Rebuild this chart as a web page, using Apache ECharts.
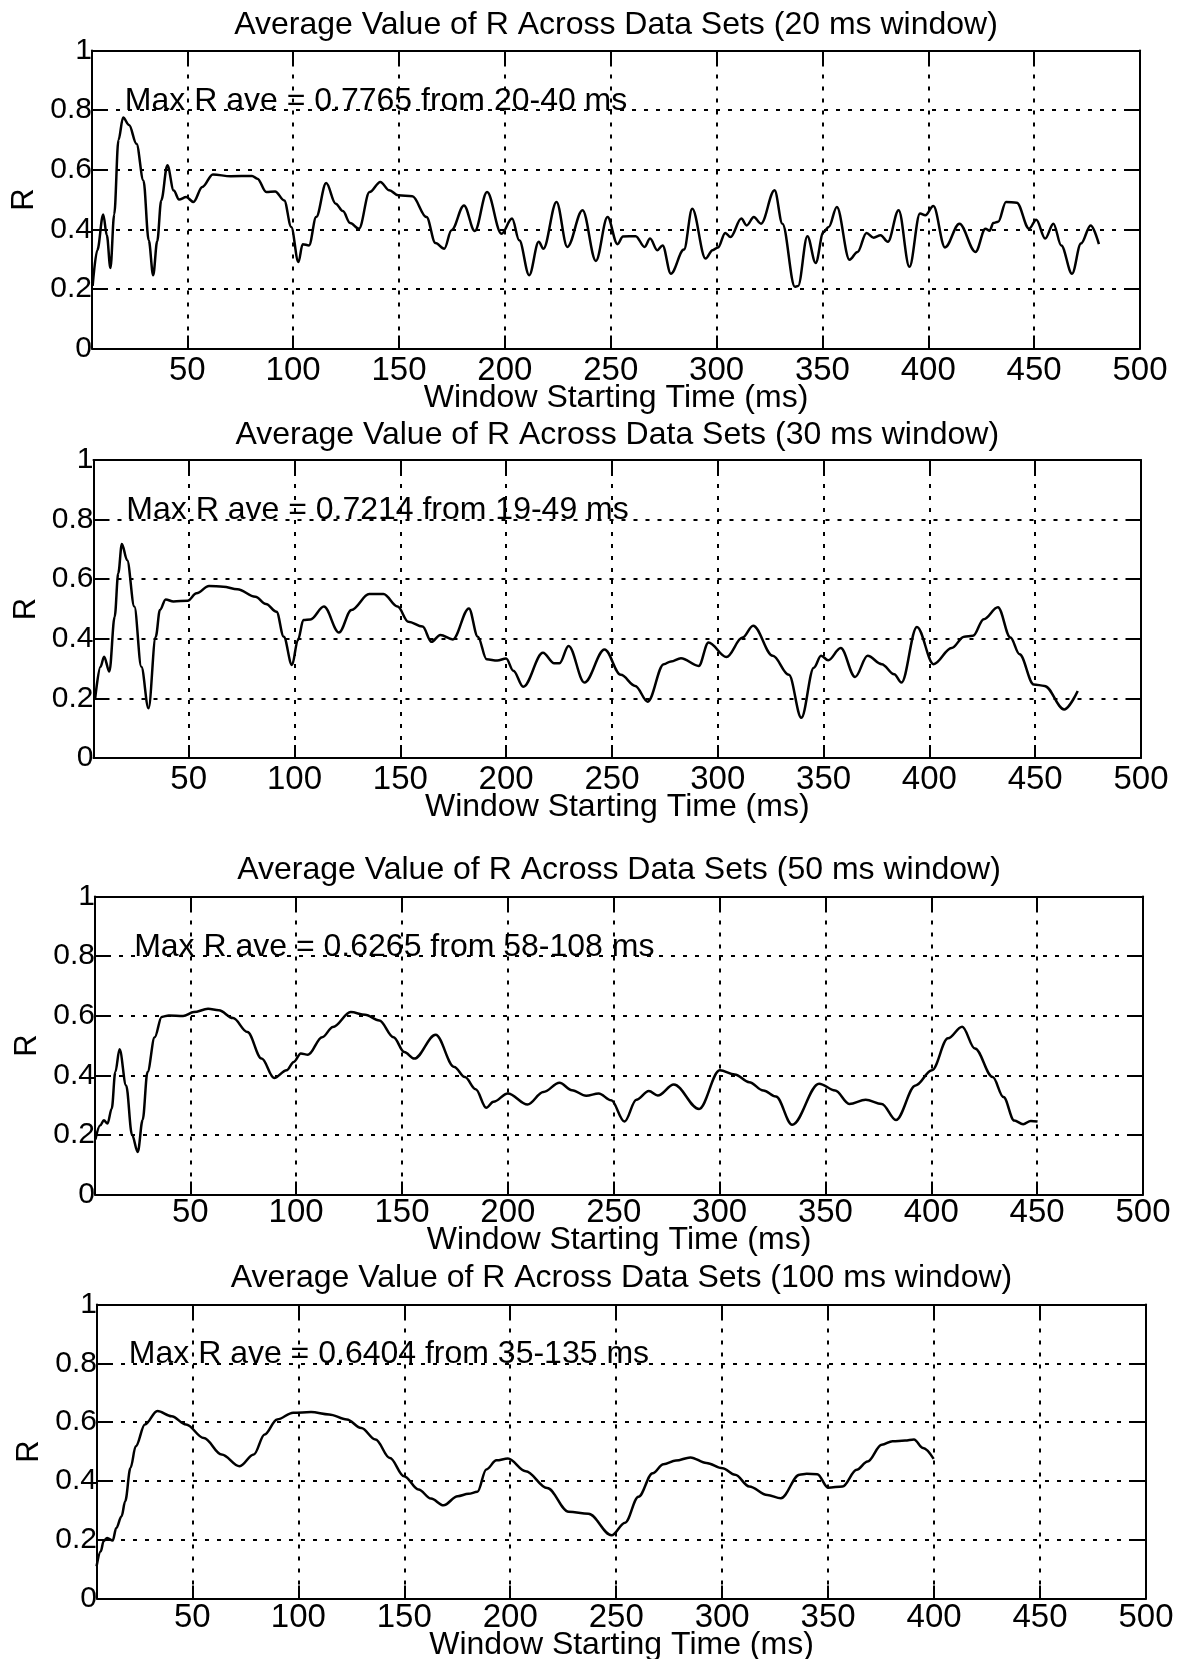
<!DOCTYPE html>
<html>
<head>
<meta charset="utf-8">
<title>Average Value of R Across Data Sets</title>
<script src="https://cdn.jsdelivr.net/npm/echarts@6/dist/echarts.min.js"></script>
<style>
  html, body { margin: 0; padding: 0; background: #fff; }
  #chart { width: 1189px; height: 1659px; }
</style>
</head>
<body>
<div id="chart"></div>
<script>
// ---------- data ----------
const panelTitles = [
  'Average Value of R Across Data Sets (20 ms window)',
  'Average Value of R Across Data Sets (30 ms window)',
  'Average Value of R Across Data Sets (50 ms window)',
  'Average Value of R Across Data Sets (100 ms window)'
];
const maxNotes = [
  'Max R ave = 0.7765 from 20-40 ms',
  'Max R ave = 0.7214 from 19-49 ms',
  'Max R ave = 0.6265 from 58-108 ms',
  'Max R ave = 0.6404 from 35-135 ms'
];
const noteX = [20.5, 20.5, 23.5, 20];
const xTicks = [50, 100, 150, 200, 250, 300, 350, 400, 450, 500];
const xName = 'Window Starting Time (ms)';
const yName = 'R';

// 20 ms window
const t20 = [5.3, 7.5, 10.3, 12, 13.7, 15.5, 17.5, 19.7, 22.5, 26, 29.3, 31.8, 33.9, 35.8, 37.7, 40.6, 43.6, 46.1, 49.5, 52.9,
  57.1, 62.1, 70.5, 80.6, 83.1, 87.3, 91.5, 95.8, 99.1, 102.5, 104.5, 107.5, 110.9, 115.6, 120.1, 123.5, 126.9, 131.1, 136.1, 141.2,
  145.4, 149.6, 156.3, 163, 167.2, 171.4, 174.8, 180.7, 185.8, 191.6, 198.4, 203.4, 206.8, 211.5, 216, 218.2, 224.4, 229.5, 236.7, 243,
  248.5, 253.2, 255.8, 261.8, 266, 268.6, 272, 274.5, 278.4, 284.6, 288.5, 294.8, 298.1, 300.7, 304.1, 306.6, 311.7, 314.2, 317.6, 321,
  327.4, 331.1, 337, 338.5, 342.9, 346.8, 350.5, 353, 356.8, 362.8, 366.6, 370.8, 374.2, 377.5, 380.9, 386, 391.1, 396.1, 398.6, 402.4,
  407.9, 414.7, 422.3, 427, 429, 430.7, 433, 436.7, 441.8, 447.6, 451, 455.2, 459.1, 462.8, 467.9, 472.1, 476.7, 480.6];
const r20 = [0.21, 0.33, 0.45, 0.38, 0.27, 0.45, 0.7, 0.775, 0.75, 0.687, 0.564, 0.363, 0.246, 0.36, 0.497, 0.615, 0.53, 0.5, 0.508, 0.492,
  0.542, 0.584, 0.578, 0.579, 0.57, 0.525, 0.527, 0.497, 0.408, 0.29, 0.35, 0.346, 0.441, 0.555, 0.486, 0.461, 0.421, 0.402, 0.525, 0.559,
  0.531, 0.514, 0.511, 0.441, 0.354, 0.335, 0.397, 0.48, 0.394, 0.525, 0.385, 0.436, 0.363, 0.246, 0.358, 0.335, 0.492, 0.341, 0.464, 0.294,
  0.441, 0.35, 0.376, 0.377, 0.341, 0.369, 0.33, 0.346, 0.251, 0.332, 0.469, 0.302, 0.33, 0.339, 0.388, 0.374, 0.436, 0.413, 0.441, 0.419,
  0.531, 0.419, 0.207, 0.21, 0.377, 0.287, 0.391, 0.408, 0.475, 0.298, 0.324, 0.388, 0.372, 0.38, 0.358, 0.464, 0.274, 0.453, 0.447, 0.478,
  0.339, 0.419, 0.324, 0.402, 0.395, 0.421, 0.425, 0.492, 0.489, 0.402, 0.432, 0.369, 0.419, 0.346, 0.251, 0.352, 0.413, 0.35];

// 30 ms window
const t30 = [5.8, 8.3, 10, 12.5, 15, 16.7, 18.4, 20.9, 24.3, 27.6, 31, 34.4, 36.4, 39.1, 42.8, 49.5, 53.7, 59.6, 66.3, 73,
  81.5, 86.5, 91.5, 94.9, 98.8, 101.6, 104.2, 107.5, 113.9, 121, 126.9, 135.3, 142, 148.7, 153.8, 160.5, 164.7, 168.9, 174.8, 182.4,
  186.6, 190.8, 195.8, 200, 203.4, 208.1, 217.4, 222.7, 225.2, 229.5, 237, 246.5, 254.2, 261, 266.9, 274.5, 277.9, 282.6, 291, 295.6,
  304.1, 311.7, 316.7, 326, 333.6, 339.5, 345.4, 348.8, 352.2, 358.1, 364.9, 370.8, 377.5, 383.4, 386.8, 394.1, 402, 410.5, 416.4, 420.6,
  425.7, 432.4, 438.3, 442.6, 449.3, 454.4, 463.7, 470.1];
const r30 = [0.2, 0.306, 0.34, 0.29, 0.474, 0.62, 0.718, 0.664, 0.508, 0.306, 0.167, 0.407, 0.497, 0.532, 0.525, 0.528, 0.553, 0.577, 0.575, 0.566,
  0.541, 0.517, 0.491, 0.407, 0.312, 0.396, 0.463, 0.465, 0.508, 0.421, 0.497, 0.55, 0.55, 0.508, 0.457, 0.441, 0.39, 0.413, 0.398, 0.502,
  0.407, 0.331, 0.327, 0.334, 0.293, 0.239, 0.353, 0.318, 0.318, 0.376, 0.253, 0.364, 0.279, 0.242, 0.189, 0.315, 0.324, 0.335, 0.309, 0.388,
  0.339, 0.404, 0.444, 0.343, 0.279, 0.135, 0.303, 0.343, 0.328, 0.369, 0.272, 0.343, 0.315, 0.281, 0.253, 0.44, 0.315, 0.369, 0.407, 0.41,
  0.466, 0.506, 0.404, 0.348, 0.247, 0.242, 0.163, 0.225];

// 50 ms window
const t50 = [5.2, 7.5, 9.2, 10.9, 12.9, 14.6, 16.6, 19.7, 22.5, 25.2, 27.5, 29.8, 33.2, 36.5, 39.9, 46.6, 51.7, 58.4, 63.5, 70.2,
  77, 83.7, 89.6, 95.5, 98.9, 102.2, 105.6, 112.3, 117.4, 125.8, 132.6, 139.3, 146, 151.1, 155.8, 165.9, 174.7, 179.7, 184.8, 189.8,
  193.2, 200, 209.3, 216.8, 224.4, 230.3, 237, 242.9, 248.8, 255.1, 260.7, 266.6, 270.8, 278.4, 290.3, 300.1, 307.2, 314, 320.7, 326.6,
  334.3, 347, 354.6, 361.3, 369, 376.6, 383.3, 392.6, 400.3, 407.9, 414.6, 420.6, 429, 434.1, 439.2, 443.4, 447, 450.2];
const r50 = [0.185, 0.232, 0.249, 0.238, 0.288, 0.411, 0.487, 0.366, 0.2, 0.143, 0.25, 0.411, 0.528, 0.596, 0.601, 0.599, 0.612, 0.623, 0.618, 0.592,
  0.545, 0.456, 0.391, 0.417, 0.445, 0.473, 0.469, 0.528, 0.562, 0.612, 0.603, 0.584, 0.528, 0.478, 0.456, 0.536, 0.428, 0.394, 0.353, 0.291,
  0.311, 0.339, 0.302, 0.344, 0.375, 0.35, 0.331, 0.339, 0.316, 0.245, 0.318, 0.347, 0.332, 0.369, 0.287, 0.417, 0.403, 0.377, 0.349, 0.329,
  0.234, 0.372, 0.349, 0.304, 0.318, 0.304, 0.25, 0.366, 0.417, 0.524, 0.563, 0.49, 0.394, 0.327, 0.248, 0.236, 0.247, 0.245];

// 100 ms window
const t100 = [4.8, 6.8, 8.1, 9.8, 12.4, 14.1, 16.6, 18.3, 20.8, 23.3, 27.6, 33.5, 40.2, 47, 55.4, 63.8, 72.3, 79, 84.1, 90,
  97.6, 106, 114.5, 122.9, 129.7, 136.4, 143.2, 149.9, 156.7, 162.6, 168.5, 175.2, 180.3, 184.5, 188.7, 193.5, 198.9, 207.3, 217.4, 227.6,
  236.9, 247.8, 254.2, 260.5, 267.2, 272.3, 278.2, 285, 292.6, 300.2, 306.1, 312.8, 321.3, 327.7, 336.5, 339.9, 344.9, 350, 356.8, 363.5,
  368.6, 375.3, 380.4, 386.3, 390.5, 394.8, 399.8];
const r100 = [0.11, 0.161, 0.195, 0.206, 0.197, 0.24, 0.28, 0.331, 0.444, 0.518, 0.592, 0.638, 0.62, 0.592, 0.546, 0.49, 0.45, 0.49, 0.558, 0.609,
  0.632, 0.634, 0.626, 0.609, 0.58, 0.541, 0.478, 0.416, 0.371, 0.34, 0.317, 0.348, 0.356, 0.363, 0.439, 0.47, 0.476, 0.433, 0.376, 0.295,
  0.288, 0.215, 0.258, 0.346, 0.426, 0.457, 0.469, 0.48, 0.461, 0.443, 0.421, 0.381, 0.352, 0.341, 0.421, 0.424, 0.423, 0.377, 0.381, 0.438,
  0.466, 0.523, 0.535, 0.537, 0.541, 0.512, 0.475];

const times = [t20, t30, t50, t100];
const values = [r20, r30, r50, r100];

// ---------- layout (px) ----------
const FONT = "'Liberation Sans', Arial, Helvetica, sans-serif";
const boxes = [
  { left: 92, top: 50.5, width: 1048, height: 298, titleY: 25, nameGap: 34, labelMargin: 6 },
  { left: 93.5, top: 460, width: 1047.5, height: 298, titleY: 435.5, nameGap: 33, labelMargin: 5 },
  { left: 95, top: 896.5, width: 1048, height: 298, titleY: 870.5, nameGap: 30, labelMargin: 2 },
  { left: 97, top: 1304.5, width: 1049, height: 294, titleY: 1278, nameGap: 31, labelMargin: 3 }
];
const X_MIN = 5, X_MAX = 500;
const black = '#000';
const gridDash = { color: black, width: 2, type: [4, 8] };

const grids = [], xAxes = [], yAxes = [], series = [], titles = [];

boxes.forEach((b, i) => {
  grids.push({ left: b.left, top: b.top, width: b.width, height: b.height, containLabel: false, outerBoundsMode: 'none' });
  titles.push({
    text: panelTitles[i], left: b.left + b.width / 2, top: b.titleY - 16, textAlign: 'center', padding: 0,
    textStyle: { fontFamily: FONT, fontSize: 32, fontWeight: 'normal', color: black, lineHeight: 32 }
  });
  // bottom axis: labels, ticks, vertical grid lines
  xAxes.push({
    type: 'value', gridIndex: i, position: 'bottom', min: X_MIN, max: X_MAX,
    name: xName, nameLocation: 'middle', nameGap: b.nameGap, nameMoveOverlap: false,
    nameTextStyle: { fontFamily: FONT, fontSize: 32, color: black },
    axisLine: { show: true, onZero: false, lineStyle: { color: black, width: 2 } },
    axisTick: { show: true, inside: true, length: 13, customValues: xTicks, lineStyle: { color: black, width: 2 } },
    axisLabel: { show: true, margin: b.labelMargin, customValues: xTicks, fontFamily: FONT, fontSize: 33, color: black },
    splitLine: { show: true, lineStyle: gridDash }
  });
  // top axis: frame + inner ticks only
  xAxes.push({
    type: 'value', gridIndex: i, position: 'top', min: X_MIN, max: X_MAX,
    axisLine: { show: true, onZero: false, lineStyle: { color: black, width: 2 } },
    axisTick: { show: true, inside: true, length: 13, customValues: xTicks, lineStyle: { color: black, width: 2 } },
    axisLabel: { show: false }, splitLine: { show: false }
  });
  yAxes.push({
    type: 'value', gridIndex: i, position: 'left', min: 0, max: 1, interval: 0.2,
    name: yName, nameLocation: 'middle', nameGap: 52, nameRotate: 90, nameMoveOverlap: false,
    nameTextStyle: { fontFamily: FONT, fontSize: 31, color: black },
    axisLine: { show: true, onZero: false, lineStyle: { color: black, width: 2 } },
    axisTick: { show: true, inside: true, length: 13, lineStyle: { color: black, width: 2 } },
    axisLabel: { show: true, margin: 0, fontFamily: FONT, fontSize: 30, color: black },
    splitLine: { show: true, lineStyle: gridDash }
  });
  yAxes.push({
    type: 'value', gridIndex: i, position: 'right', min: 0, max: 1, interval: 0.2,
    axisLine: { show: true, onZero: false, lineStyle: { color: black, width: 2 } },
    axisTick: { show: true, inside: true, length: 13, lineStyle: { color: black, width: 2 } },
    axisLabel: { show: false }, splitLine: { show: false }
  });
  series.push({
    type: 'line', xAxisIndex: 2 * i, yAxisIndex: 2 * i,
    data: times[i].map((t, k) => [t, values[i][k]]),
    showSymbol: false, smooth: 0.35, smoothMonotone: 'x',
    lineStyle: { color: black, width: 2.5 }, itemStyle: { color: black },
    markPoint: {
      silent: true, symbol: 'circle', symbolSize: 0, animation: false,
      data: [{ coord: [noteX[i], 0.8] }],
      label: {
        show: true, formatter: maxNotes[i], position: [0, 0], align: 'left', verticalAlign: 'middle', offset: [0, -9],
        fontFamily: FONT, fontSize: 32, color: black
      }
    }
  });
});

const chart = echarts.init(document.getElementById('chart'), null, { renderer: 'canvas' });
chart.setOption({
  animation: false,
  backgroundColor: '#fff',
  title: titles,
  grid: grids,
  xAxis: xAxes,
  yAxis: yAxes,
  series: series
});
</script>
</body>
</html>
